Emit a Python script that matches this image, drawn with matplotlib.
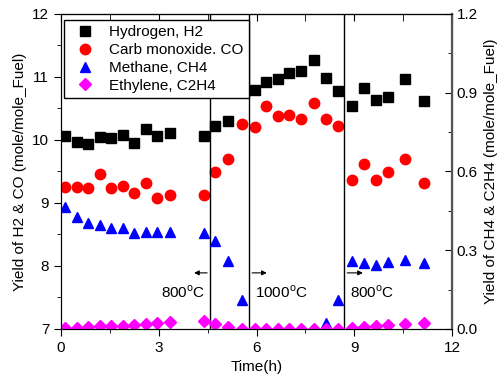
import numpy as np
import matplotlib.pyplot as plt
from matplotlib.ticker import MultipleLocator

plt.rcParams['font.family'] = ['Liberation Sans', 'DejaVu Sans']
plt.rcParams['font.size'] = 11

nan = np.nan
time_h = [0.12, 0.48, 0.84, 1.19, 1.53, 1.89, 2.24, 2.61, 2.96, 3.34,
          4.38, 4.72, 5.11, 5.57, 5.94, 6.29, 6.65, 7.00, 7.36, 7.76,
          8.13, 8.50, 8.93, 9.29, 9.67, 10.03, 10.56, 11.14]
h2 = [10.07, 9.96, 9.93, 10.05, 10.03, 10.08, 9.95, 10.18, 10.07, 10.11,
      10.06, 10.22, 10.30, nan, 10.79, 10.92, 10.97, 11.07, 11.09, 11.27,
      10.99, 10.77, 10.54, 10.82, 10.63, 10.68, 10.97, 10.62]
co = [9.25, 9.25, 9.24, 9.46, 9.23, 9.27, 9.15, 9.31, 9.08, 9.13,
      9.13, 9.49, 9.69, 10.25, 10.20, 10.54, 10.38, 10.39, 10.34, 10.58,
      10.33, 10.22, 9.37, 9.62, 9.37, 9.49, 9.70, 9.32]
ch4 = [0.464, 0.428, 0.404, 0.396, 0.386, 0.386, 0.367, 0.371, 0.368, 0.371,
       0.365, 0.334, 0.260, 0.109, 0.0, 0.0, 0.0, 0.0, 0.0, 0.0,
       0.023, 0.109, 0.260, 0.253, 0.245, 0.255, 0.263, 0.250]
c2h4 = [0.003, 0.003, 0.006, 0.010, 0.012, 0.013, 0.015, 0.019, 0.022, 0.027,
        0.032, 0.020, 0.006, 0.0, 0.0, 0.0, 0.0, 0.0, 0.0, 0.0,
        0.0, 0.0, 0.003, 0.006, 0.010, 0.015, 0.020, 0.022]

switch_times = [4.57, 5.78, 8.70]
temp_labels = ['800$^\\mathregular{o}$C', '1000$^\\mathregular{o}$C', '800$^\\mathregular{o}$C']

fig = plt.figure(figsize=(5.0, 3.87), dpi=100)
ax = fig.add_axes([0.122, 0.150, 0.782, 0.814])

l1, = ax.plot(time_h, h2, 's', color='black', ms=6.5, label='Hydrogen, H2')
l2, = ax.plot(time_h, co, 'o', color='red', ms=7.5, label='Carb monoxide. CO')
ax.set_xlim(0, 12)
ax.set_ylim(7, 12)
ax.xaxis.set_major_locator(MultipleLocator(3))
ax.xaxis.set_minor_locator(MultipleLocator(1.5))
ax.yaxis.set_major_locator(MultipleLocator(1))
ax.yaxis.set_minor_locator(MultipleLocator(0.5))
ax.tick_params(which='major', direction='out', length=5, top=False)
ax.tick_params(which='minor', direction='out', length=3, top=False)
ax.set_xlabel('Time(h)')
ax.set_ylabel('Yield of H2 & CO (mole/mole_Fuel)')

top = ax.secondary_xaxis('top')
top.xaxis.set_major_locator(MultipleLocator(3))
top.xaxis.set_minor_locator(MultipleLocator(1.5))
top.tick_params(which='both', direction='in', length=5, labeltop=False)

for xv in switch_times:
    ax.axvline(xv, color='black', lw=1)

# arrows and temperature notes
ax.annotate('', xy=(4.0, 7.89), xytext=(switch_times[0], 7.89),
            arrowprops=dict(arrowstyle='-|>', color='black', lw=0.8, mutation_scale=7))
ax.annotate('', xy=(6.4, 7.89), xytext=(switch_times[1], 7.89),
            arrowprops=dict(arrowstyle='-|>', color='black', lw=0.8, mutation_scale=7))
ax.annotate('', xy=(9.35, 7.89), xytext=(switch_times[2], 7.89),
            arrowprops=dict(arrowstyle='-|>', color='black', lw=0.8, mutation_scale=7))
ax.text(4.42, 7.58, temp_labels[0], ha='right', va='center')
ax.text(5.95, 7.58, temp_labels[1], ha='left', va='center')
ax.text(8.87, 7.58, temp_labels[2], ha='left', va='center')

ax2 = ax.twinx()
l3, = ax2.plot(time_h, ch4, '^', color='blue', ms=7.5, label='Methane, CH4')
l4, = ax2.plot(time_h, c2h4, 'D', color='magenta', ms=6, label='Ethylene, C2H4')
ax2.set_ylim(0, 1.2)
ax2.yaxis.set_major_locator(MultipleLocator(0.3))
ax2.yaxis.set_minor_locator(MultipleLocator(0.15))
ax2.yaxis.set_major_formatter(plt.FormatStrFormatter('%.1f'))
ax2.tick_params(which='major', direction='in', length=5)
ax2.tick_params(which='minor', direction='in', length=3)
ax2.spines['right'].set_color('#555555')
ax2.spines['right'].set_linewidth(1.6)
ax2.set_ylabel('Yield of CH4 & C2H4 (mole/mole_Fuel)')

leg = ax2.legend(handles=[l1, l2, l3, l4], loc='upper left',
                 bbox_to_anchor=(0.008, 0.981), borderaxespad=0.0,
                 fancybox=False, edgecolor='black', framealpha=1,
                 handletextpad=0.6, labelspacing=0.25, borderpad=0.35,
                 fontsize=11)
leg.get_frame().set_linewidth(1.0)

fig.savefig('out.png', dpi=100)
